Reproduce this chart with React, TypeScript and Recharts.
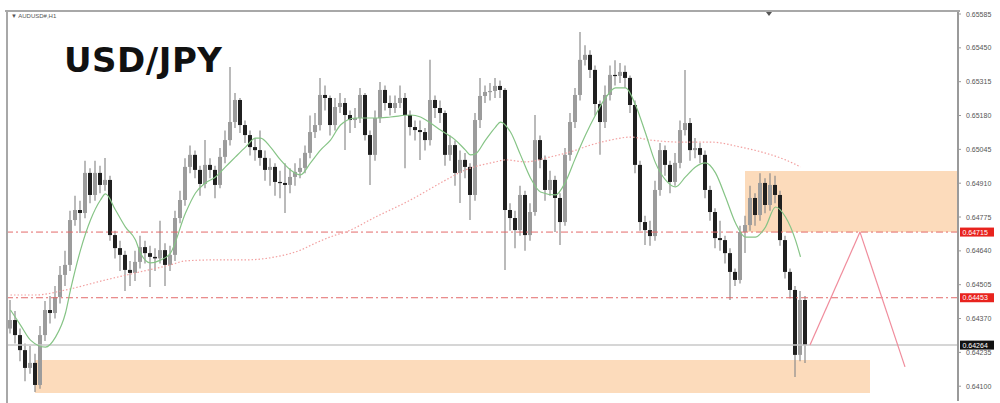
import React from 'react';
import { ComposedChart, Bar, Line, XAxis, YAxis, ReferenceArea, ReferenceLine } from 'recharts';

// ---- data (AUDUSD H1 candles) ----
const firstOpen = 0.6433;
const closes = [
  0.64364, 0.64304, 0.64244, 0.64173, 0.64193, 0.64105, 0.64304, 0.64404, 0.64392, 0.64456,
  0.64544, 0.64584, 0.64763, 0.64803, 0.64791, 0.64951, 0.64863, 0.64951, 0.64903, 0.64923,
  0.64703, 0.64651, 0.64624, 0.64564, 0.64552, 0.64596, 0.64655, 0.64631, 0.64616, 0.6461,
  0.64643, 0.64584, 0.64624, 0.64771, 0.64843, 0.64975, 0.65023, 0.64963, 0.64907, 0.64983,
  0.64963, 0.64903, 0.65015, 0.65082, 0.65154, 0.65242, 0.65142, 0.65102, 0.65054, 0.65042,
  0.65011, 0.64963, 0.64975, 0.64915, 0.64911, 0.64903, 0.64935, 0.64955, 0.64971, 0.65031,
  0.65114, 0.65142, 0.65262, 0.6525, 0.65142, 0.65214, 0.6523, 0.65182, 0.65162, 0.6517,
  0.65262, 0.65102, 0.65023, 0.6517, 0.65282, 0.6523, 0.6521, 0.6523, 0.6525, 0.65182,
  0.65134, 0.65122, 0.65114, 0.65082, 0.65242, 0.6521, 0.6519, 0.65023, 0.65062, 0.64951,
  0.65003, 0.64975, 0.64863, 0.65162, 0.65258, 0.65274, 0.65278, 0.65298, 0.65282, 0.64803,
  0.64771, 0.64723, 0.64863, 0.64703, 0.64795, 0.65082, 0.65003, 0.64883, 0.64923, 0.64851,
  0.64755, 0.65023, 0.65154, 0.65262, 0.65402, 0.65422, 0.65362, 0.65226, 0.65154, 0.65262,
  0.65342, 0.65338, 0.65354, 0.6533, 0.65222, 0.64983, 0.64755, 0.64723, 0.64699, 0.64883,
  0.65042, 0.64983, 0.64915, 0.64991, 0.65122, 0.6515, 0.65042, 0.6505, 0.65023, 0.64883,
  0.64795, 0.64691, 0.64683, 0.64631, 0.64556, 0.64524, 0.64715, 0.64743, 0.64851, 0.64783,
  0.64911, 0.64823, 0.64903, 0.64863, 0.64683, 0.64556, 0.64484, 0.64225, 0.64444, 0.64264,
];
const highs = [
  0.64444, 0.644, 0.6433, 0.6427, 0.6426, 0.6423, 0.6434, 0.6444, 0.6446, 0.645,
  0.6458, 0.6464, 0.648, 0.6486, 0.6484, 0.65, 0.6497, 0.65, 0.6498, 0.65011,
  0.6494, 0.6472, 0.6468, 0.6464, 0.646, 0.6464, 0.647, 0.6468, 0.6466, 0.6465,
  0.6476, 0.6467, 0.6466, 0.648, 0.6488, 0.6501, 0.6506, 0.6504, 0.6498, 0.65082,
  0.6501, 0.6498, 0.6505, 0.6512, 0.65374, 0.6527, 0.6525, 0.6516, 0.6512, 0.6509,
  0.6512, 0.6504, 0.6501, 0.6499, 0.6496, 0.6499, 0.6497, 0.6499, 0.6501, 0.6506,
  0.6518, 0.6519, 0.6533, 0.653, 0.6526, 0.6525, 0.6527, 0.6525, 0.652, 0.6521,
  0.6529, 0.6527, 0.6512, 0.652, 0.65314, 0.653, 0.6526, 0.6526, 0.653, 0.6527,
  0.652, 0.6516, 0.6516, 0.6513, 0.65402, 0.6526, 0.6524, 0.652, 0.651, 0.6508,
  0.6504, 0.6503, 0.6499, 0.6519, 0.6533, 0.653, 0.6531, 0.6533, 0.6532, 0.6529,
  0.6483, 0.648, 0.649, 0.6488, 0.6483, 0.65182, 0.651, 0.6502, 0.6496, 0.6494,
  0.6487, 0.6505, 0.6519, 0.6529, 0.65513, 0.6546, 0.6544, 0.6538, 0.6524, 0.653,
  0.6538, 0.654, 0.6539, 0.6538, 0.6534, 0.6524, 0.65, 0.6478, 0.6476, 0.6492,
  0.6507, 0.6506, 0.65, 0.6503, 0.6516, 0.65362, 0.6517, 0.6509, 0.6507, 0.6504,
  0.649, 0.6481, 0.6476, 0.647, 0.6465, 0.6457, 0.6474, 0.6478, 0.649, 0.6487,
  0.6495, 0.6493, 0.6495, 0.6494, 0.6488, 0.647, 0.6457, 0.645, 0.6448, 0.6446,
];
const lows = [
  0.6431, 0.6427, 0.642, 0.6412, 0.6415, 0.64077, 0.6409, 0.6428, 0.6435, 0.6437,
  0.6443, 0.645, 0.6456, 0.6474, 0.64711, 0.6477, 0.6483, 0.6484, 0.6487, 0.6488,
  0.6468, 0.6461, 0.6456, 0.6448, 0.645, 0.6452, 0.6457, 0.6459, 0.64496, 0.6456,
  0.6459, 0.645, 0.6456, 0.646, 0.6475, 0.6482, 0.6495, 0.6493, 0.6486, 0.6489,
  0.6493, 0.6485, 0.6489, 0.6499, 0.6506, 0.6513, 0.6511, 0.6507, 0.6502, 0.65,
  0.6498, 0.6492, 0.649, 0.6486, 0.6485, 0.64791, 0.6487, 0.649, 0.6493, 0.6495,
  0.6501, 0.6509, 0.6512, 0.652, 0.651, 0.6512, 0.6519, 0.65042, 0.6511, 0.6513,
  0.6515, 0.6508, 0.64903, 0.65, 0.6515, 0.652, 0.6518, 0.6519, 0.6521, 0.6497,
  0.651, 0.6508, 0.65003, 0.6504, 0.6506, 0.6517, 0.6515, 0.6498, 0.65, 0.649,
  0.64831, 0.6493, 0.64763, 0.6484, 0.6513, 0.6523, 0.6524, 0.6525, 0.6525, 0.64564,
  0.6472, 0.6465, 0.647, 0.6464, 0.6468, 0.6478, 0.6497, 0.6484, 0.6486, 0.64715,
  0.64663, 0.6474, 0.65, 0.6513, 0.6524, 0.6538, 0.6533, 0.6518, 0.65023, 0.6513,
  0.6524, 0.653, 0.6531, 0.6529, 0.6519, 0.6495, 0.6472, 0.64663, 0.6466, 0.6468,
  0.6486, 0.6494, 0.6487, 0.649, 0.6497, 0.651, 0.65, 0.6501, 0.6499, 0.6485,
  0.6476, 0.6465, 0.6464, 0.6459, 0.64444, 0.645, 0.6451, 0.64631, 0.6472, 0.6474,
  0.6476, 0.6479, 0.648, 0.6483, 0.6466, 0.6453, 0.6445, 0.64137, 0.642, 0.64193,
];
// moving averages read at sample candles: [candle index, price]
const greenMA = [
  [0, 0.64404], [2, 0.64344], [4, 0.64284], [7, 0.64256], [9, 0.64296], [11, 0.64392], [12, 0.64484],
  [14, 0.64643], [16, 0.64763], [18, 0.64843], [19, 0.64867], [21, 0.64803], [23, 0.64735], [25, 0.64683],
  [26, 0.64631], [28, 0.64592], [30, 0.64603], [32, 0.64631], [35, 0.64791], [37, 0.64871], [39, 0.64911],
  [41, 0.64935], [43, 0.64975], [45, 0.65015], [47, 0.65054], [49, 0.6509], [50, 0.6509], [52, 0.65054],
  [54, 0.65003], [56, 0.64963], [58, 0.64943], [60, 0.64991], [62, 0.65042], [64, 0.65082], [66, 0.65142],
  [69, 0.6517], [73, 0.6517], [76, 0.65174], [80, 0.65182], [82, 0.65174], [84, 0.6515], [86, 0.65122],
  [89, 0.65082], [91, 0.65042], [92, 0.65023], [93, 0.65027], [95, 0.65082], [97, 0.65134], [98, 0.65154],
  [100, 0.65114], [102, 0.65023], [104, 0.64931], [106, 0.64875], [109, 0.64863], [111, 0.64915],
  [113, 0.65011], [115, 0.65102], [117, 0.65182], [119, 0.6525], [121, 0.6529], [123, 0.6529],
  [125, 0.65222], [127, 0.6511], [129, 0.64991], [131, 0.64923], [133, 0.64895], [135, 0.64935],
  [137, 0.64975], [139, 0.64991], [141, 0.64951], [143, 0.64855], [145, 0.64751], [147, 0.64695],
  [149, 0.64695], [151, 0.64735], [153, 0.64815], [155, 0.64775], [157, 0.64683], [158, 0.64616],
];
const pinkMA = [
  [0, 0.64464], [5, 0.64464], [11, 0.64484], [19, 0.64524], [25, 0.64552], [32, 0.64584], [35, 0.646],
  [41, 0.64604], [47, 0.64604], [53, 0.64616], [58, 0.64643], [61, 0.64671], [65, 0.64703], [67, 0.64715],
  [73, 0.64775], [80, 0.64843], [86, 0.64911], [91, 0.64963], [97, 0.64995], [99, 0.65003], [103, 0.64995],
  [108, 0.65015], [112, 0.65035], [116, 0.65062], [120, 0.65082], [124, 0.65094], [128, 0.65082],
  [134, 0.65074], [140, 0.65074], [146, 0.65054], [151, 0.6503], [155, 0.65003], [158, 0.64975],
];
const yTicks = [0.65585, 0.6545, 0.65315, 0.6518, 0.65045, 0.6491, 0.64775, 0.6464, 0.64505, 0.6437, 0.64235, 0.641];
const redLevels = [0.64715, 0.64453];
const lastPrice = 0.64264;
const upperZoneX = [146.9, 189.5];
const upperZoneY = [0.64715, 0.64959];
const lowerZoneX = [4.9, 171.9];
const lowerZoneY = [0.64073, 0.64205];
const zigX = [159.9, 169.9, 178.9];
const zigY = [0.64264, 0.64715, 0.64177];
const slotCount = 190;
const yDomain = [0.64041, 0.65593];

const rows: any[] = Array.from({ length: slotCount }, (_, i) => {
  const r: any = { i };
  if (i < closes.length) {
    r.open = i === 0 ? firstOpen : closes[i - 1];
    r.close = closes[i];
    r.high = highs[i];
    r.low = lows[i];
    r.range = [lows[i], highs[i]];
  }
  return r;
});
greenMA.forEach(([i, v]) => { rows[i].green = v; });
pinkMA.forEach(([i, v]) => { rows[i].pink = v; });

const Candle = (props: any) => {
  const { x, y, width, height, payload } = props;
  if (!payload || payload.close == null || height == null) return null;
  const { open, close, high, low } = payload;
  const top = Math.min(y, y + height);
  const h = Math.abs(height);
  const k = h / (high - low);
  const bTop = top + (high - Math.max(open, close)) * k;
  const bBot = top + (high - Math.min(open, close)) * k;
  const cx = x + width / 2;
  const bull = close >= open;
  return (
    <g>
      <line x1={cx} x2={cx} y1={top} y2={top + h} stroke="#8c8c8c" strokeWidth={1.2} />
      <rect x={x} y={bTop} width={width} height={Math.max(1.2, bBot - bTop)} fill={bull ? '#9c9c9c' : '#202020'} />
    </g>
  );
};

const Tick = (props: any) => {
  const { x, y, payload } = props;
  return (
    <text x={x + 3} y={y + 2.5} fontSize={7} fill="#555" fontFamily="Liberation Sans, Arial, sans-serif">
      {Number(payload.value).toFixed(5)}
    </text>
  );
};

const tag = (value: number, bg: string) => (props: any) => {
  const vb = props.viewBox || {};
  const x = (vb.x ?? 0) + (vb.width ?? 0) + 2;
  const y = vb.y ?? 0;
  return (
    <g>
      <rect x={x} y={y - 4.5} width={34} height={9} fill={bg} />
      <text x={x + 2.5} y={y + 2.5} fontSize={7} fill="#fff" fontFamily="Liberation Sans, Arial, sans-serif">
        {value.toFixed(5)}
      </text>
    </g>
  );
};

export default function App() {
  return (
    <div style={{ position: 'absolute', left: 0, top: 0, width: 1000, height: 403, background: '#fff', overflow: 'hidden' }}>
      <ComposedChart width={1000} height={403} data={rows} margin={{ top: 12, right: 0, bottom: 2, left: 8 }}>
        <XAxis dataKey="i" type="number" domain={[-0.5, 189.5]} hide allowDataOverflow />
        <YAxis
          orientation="right"
          domain={yDomain}
          ticks={yTicks}
          width={42}
          allowDataOverflow
          axisLine={{ stroke: '#9a9a9a', strokeWidth: 2 }}
          tickLine={{ stroke: '#9a9a9a' }}
          tickSize={3}
          tick={<Tick />}
          interval={0}
        />
        <ReferenceLine y={lastPrice} stroke="#c8c8c8" strokeWidth={1.5} label={{ content: tag(lastPrice, '#111') }} />
        {redLevels.map((v) => (
          <ReferenceLine key={v} y={v} stroke="#e36a6a" strokeWidth={1} strokeDasharray="7 3 2 3" label={{ content: tag(v, '#e8231e') }} />
        ))}
        <Line dataKey="pink" type="monotone" connectNulls dot={false} stroke="#f2a0a0" strokeWidth={1.2} strokeDasharray="1.5 2" isAnimationActive={false} />
        <Line dataKey="green" type="monotone" connectNulls dot={false} stroke="#86c486" strokeWidth={1.2} isAnimationActive={false} />
        <Bar dataKey="range" barSize={4} shape={<Candle />} isAnimationActive={false} />
        <ReferenceArea x1={upperZoneX[0]} x2={upperZoneX[1]} y1={upperZoneY[0]} y2={upperZoneY[1]} fill="#f7aa5e" fillOpacity={0.42} stroke="none" />
        <ReferenceArea x1={lowerZoneX[0]} x2={lowerZoneX[1]} y1={lowerZoneY[0]} y2={lowerZoneY[1]} fill="#f7aa5e" fillOpacity={0.42} stroke="none" />
        <ReferenceLine segment={[{ x: zigX[0], y: zigY[0] }, { x: zigX[1], y: zigY[1] }]} stroke="#f08c9c" strokeWidth={1.2} />
        <ReferenceLine segment={[{ x: zigX[1], y: zigY[1] }, { x: zigX[2], y: zigY[2] }]} stroke="#f08c9c" strokeWidth={1.2} />
      </ComposedChart>
      <div style={{ position: 'absolute', left: 5, top: 10, width: 955, height: 2, background: '#a8a8a8' }} />
      <div style={{ position: 'absolute', left: 6, top: 10, width: 2, height: 393, background: '#a8a8a8' }} />
      <div style={{ position: 'absolute', left: 766, top: 12, width: 0, height: 0, borderLeft: '3px solid transparent', borderRight: '3px solid transparent', borderTop: '4px solid #555' }} />
      <div style={{ position: 'absolute', left: 11, top: 13, fontSize: 6, color: '#555', fontFamily: 'Liberation Sans, Arial, sans-serif', whiteSpace: 'nowrap' }}>
        ▼ AUDUSD#,H1
      </div>
      <div style={{ position: 'absolute', left: 64, top: 43, fontSize: 34, fontWeight: 700, color: '#111', fontFamily: 'DejaVu Sans, sans-serif', lineHeight: 1, whiteSpace: 'nowrap', letterSpacing: 0.5 }}>
        USD/JPY
      </div>
    </div>
  );
}
